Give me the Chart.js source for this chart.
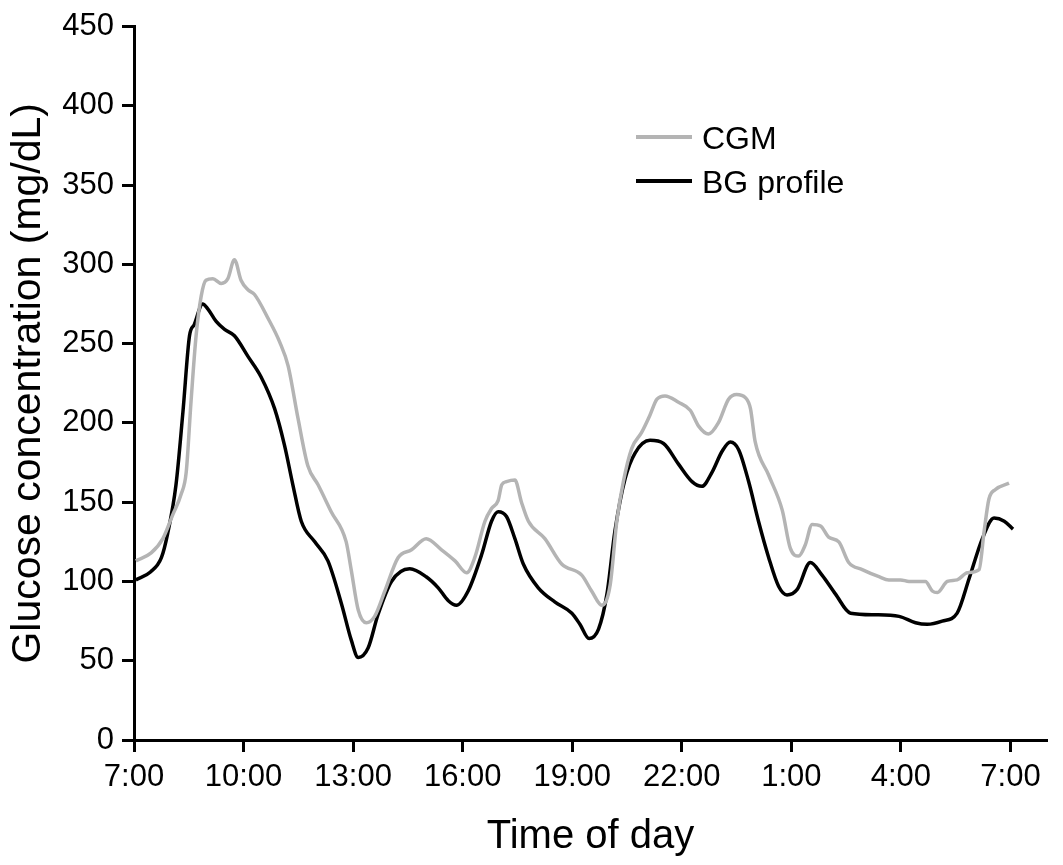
<!DOCTYPE html>
<html>
<head>
<meta charset="utf-8">
<script src="https://cdn.jsdelivr.net/npm/chart.js@4/dist/chart.umd.min.js"></script>
<style>
  html, body { margin: 0; padding: 0; background: #fff; }
  #wrap { position: relative; width: 1063px; height: 865px; }
  .lg-line { position: absolute; left: 636px; width: 56px; height: 4px; }
  .lg-text { position: absolute; left: 702px; font: 32px "Liberation Sans", Arial, sans-serif; color: #000; line-height: 36px; }
</style>
</head>
<body>
<div id="wrap">
  <canvas id="chart"></canvas>
  <div class="lg-line" style="top:135px;background:#b4b4b4"></div>
  <div class="lg-text" style="top:120px">CGM</div>
  <div class="lg-line" style="top:179px;background:#000"></div>
  <div class="lg-text" style="top:164px">BG profile</div>
</div>
<script>
// hours since 7:00
const tickHours = [0, 3, 6, 9, 12, 15, 18, 21, 24];
const tickLabels = ['7:00', '10:00', '13:00', '16:00', '19:00', '22:00', '1:00', '4:00', '7:00'];

const cgmHours = [0.05, 0.47, 0.79, 1.06, 1.29, 1.43, 1.56, 1.7, 1.84, 1.97, 2.16, 2.39, 2.57, 2.75, 2.93, 3.12, 3.3, 3.67, 3.99, 4.22, 4.49, 4.76, 5.04, 5.4, 5.81, 5.95, 6.14, 6.36, 6.59, 6.87, 7.23, 7.6, 8.0, 8.42, 8.79, 9.11, 9.33, 9.61, 9.79, 9.97, 10.07, 10.2, 10.43, 10.61, 10.8, 11.25, 11.71, 12.26, 12.53, 12.81, 13.04, 13.22, 13.4, 13.63, 13.9, 14.13, 14.32, 14.54, 14.91, 15.23, 15.46, 15.73, 16.0, 16.28, 16.5, 16.74, 16.88, 17.01, 17.38, 17.75, 17.97, 18.2, 18.38, 18.57, 18.8, 19.02, 19.3, 19.57, 19.94, 20.4, 20.67, 20.99, 21.22, 21.67, 21.86, 22.0, 22.27, 22.54, 22.82, 23.14, 23.28, 23.41, 23.59, 23.96];
const cgmValues = [113, 118, 127, 142, 155, 169, 213, 255, 280, 290, 291, 288, 291, 303, 290, 284, 281, 266, 251, 236, 203, 173, 161, 144, 125, 107, 82, 74, 78, 94, 115, 120, 127, 120, 113, 105.5, 115, 138, 146, 151, 161, 163, 164, 150, 138, 127, 111, 104, 94, 85, 98, 138, 163, 184, 194, 205, 215, 217, 213, 208, 198, 193, 200, 215, 218, 216, 209, 188, 167, 145, 121, 116, 123, 136, 135, 128, 125, 112, 107.5, 103, 101, 101, 100, 100, 94, 93, 100, 101, 105.5, 107.5, 132, 152, 158, 162];

const bgHours = [0.05, 0.45, 0.75, 0.92, 1.15, 1.34, 1.52, 1.65, 1.88, 2.02, 2.25, 2.48, 2.75, 3.12, 3.48, 3.85, 4.12, 4.35, 4.58, 4.95, 5.31, 5.68, 5.95, 6.14, 6.41, 6.68, 7.05, 7.55, 8.0, 8.33, 8.6, 8.83, 9.15, 9.52, 9.79, 9.97, 10.2, 10.43, 10.66, 11.07, 11.53, 11.99, 12.21, 12.46, 12.72, 12.95, 13.17, 13.45, 13.72, 14.13, 14.5, 14.91, 15.28, 15.55, 15.83, 16.1, 16.33, 16.56, 16.83, 17.1, 17.38, 17.65, 17.88, 18.16, 18.52, 18.84, 19.21, 19.62, 20.3, 20.95, 21.4, 21.72, 22.13, 22.54, 22.87, 23.23, 23.55, 23.83, 24.07];
const bgValues = [101, 106, 115, 130, 161, 207, 255, 262, 275, 272, 264, 259, 255, 242, 229, 209, 186, 161, 138, 125, 113, 86, 63, 52, 58, 79, 100, 108, 103, 96, 88, 85, 94, 117, 138, 144, 141, 127, 111, 96, 87, 80, 73, 64, 70, 92, 132, 165, 181, 189, 187, 174, 163, 160, 169, 182, 188, 183, 163, 138, 115, 97, 91.5, 95, 112, 104, 92, 80, 79, 78, 74, 73, 75, 80, 102, 127, 140, 138, 133];

const FONT = '"Liberation Sans", Arial, sans-serif';
const toPoints = (xs, ys) => xs.map((x, i) => ({ x, y: ys[i] }));

new Chart(document.getElementById('chart'), {
  type: 'line',
  data: {
    datasets: [
      { label: 'CGM', data: toPoints(cgmHours, cgmValues), borderColor: '#b4b4b4', borderWidth: 3.5,
        pointRadius: 0, cubicInterpolationMode: 'monotone', fill: false },
      { label: 'BG profile', data: toPoints(bgHours, bgValues), borderColor: '#000', borderWidth: 3.5,
        pointRadius: 0, cubicInterpolationMode: 'monotone', fill: false },
    ]
  },
  options: {
    responsive: true, maintainAspectRatio: false, animation: false,
    layout: { padding: { top: 23, right: 16, bottom: 0, left: 0 } },
    plugins: { legend: { display: false }, tooltip: { enabled: false } },
    scales: {
      x: {
        type: 'linear', min: 0, max: 25,
        afterBuildTicks: s => { s.ticks = tickHours.map(v => ({ value: v })); },
        afterFit: s => { s.height = 125; },
        ticks: { color: '#000', font: { family: FONT, size: 31 }, padding: 7, maxRotation: 0,
          callback: v => tickLabels[tickHours.indexOf(v)] },
        grid: { drawOnChartArea: false, tickLength: 12, tickWidth: 3, tickColor: '#000' },
        border: { display: true, color: '#000', width: 3 },
        title: { display: true, text: 'Time of day', color: '#000', font: { family: FONT, size: 40 } }
      },
      y: {
        min: 0, max: 450,
        afterFit: s => { s.width = 134; },
        ticks: { stepSize: 50, color: '#000', font: { family: FONT, size: 31 }, padding: 8 },
        grid: { drawOnChartArea: false, tickLength: 12, tickWidth: 3, tickColor: '#000' },
        border: { display: true, color: '#000', width: 3 },
        title: { display: true, text: 'Glucose concentration (mg/dL)', color: '#000', font: { family: FONT, size: 41 } }
      }
    }
  }
});
</script>
</body>
</html>
